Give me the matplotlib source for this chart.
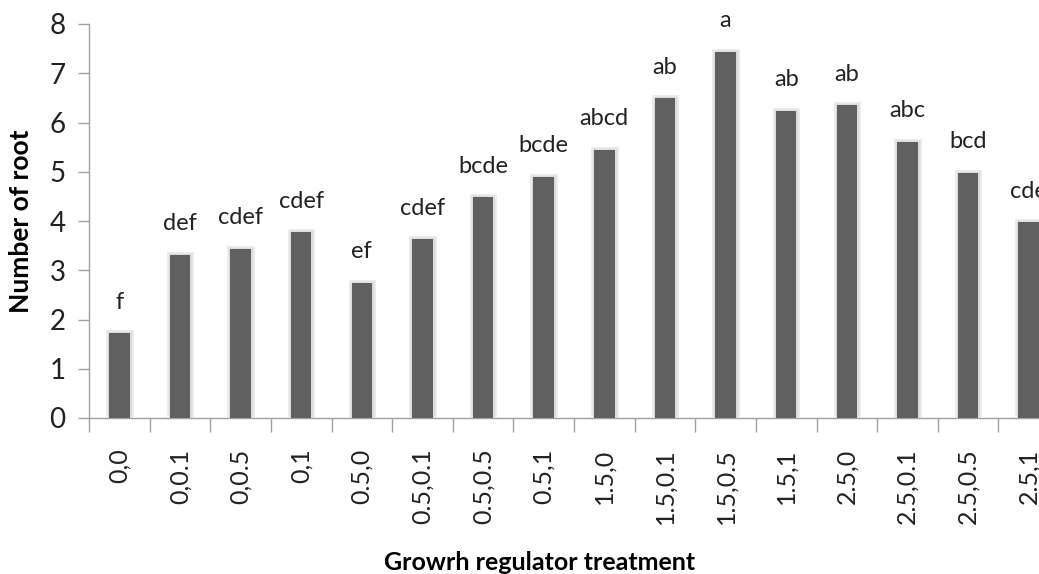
import matplotlib
matplotlib.use("Agg")
import matplotlib.pyplot as plt
import matplotlib.patheffects as pe
import numpy as np

treatments = ["0,0", "0,0.1", "0,0.5", "0,1", "0.5,0", "0.5,0.1", "0.5,0.5", "0.5,1",
              "1.5,0", "1.5,0.1", "1.5,0.5", "1.5,1", "2.5,0", "2.5,0.1", "2.5,0.5", "2.5,1"]
root_count = [1.72, 3.31, 3.43, 3.77, 2.74, 3.63, 4.48, 4.90,
              5.44, 6.49, 7.44, 6.24, 6.35, 5.61, 4.98, 3.97]
letters = ["f", "def", "cdef", "cdef", "ef", "cdef", "bcde", "bcde",
           "abcd", "ab", "a", "ab", "ab", "abc", "bcd", "cde"]
y_ticks = [0, 1, 2, 3, 4, 5, 6, 7, 8]

plt.rcParams["font.family"] = ["Lato", "DejaVu Sans"]

fig = plt.figure(figsize=(10.39, 5.74), dpi=100)
ax = fig.add_axes([89 / 1039, 156 / 574, 970 / 1039, 394 / 574])

x = np.arange(len(treatments))
bars = ax.bar(x, root_count, width=0.34, color="#606060", zorder=3)
for b in bars:
    b.set_path_effects([pe.withStroke(linewidth=5, foreground="#ececec"),
                        pe.withStroke(linewidth=2.5, foreground="#dcdcdc"), pe.Normal()])

# significance letters above each bar
for xi, v, lab in zip(x, root_count, letters):
    ax.text(xi, v + 0.42, lab, ha="center", va="bottom", fontsize=17, color="#222222")

ax.set_xlim(-0.5, len(treatments) - 0.5)
ax.set_ylim(0, 8)
ax.set_yticks(y_ticks)
ax.tick_params(axis="y", direction="out", length=8, width=1, color="#a0a0a0",
               labelsize=20, labelcolor="#222222", pad=9)

ax.set_xticks(x)
ax.set_xticklabels(treatments, rotation=90, fontsize=18, color="#222222")
ax.tick_params(axis="x", which="major", length=0, pad=22)
ax.set_xticks(np.arange(len(treatments) + 1) - 0.5, minor=True)
ax.tick_params(axis="x", which="minor", direction="out", length=10, width=1, color="#a0a0a0")

for side in ("top", "right"):
    ax.spines[side].set_visible(False)
for side in ("left", "bottom"):
    ax.spines[side].set_color("#a0a0a0")
    ax.spines[side].set_linewidth(1)

ax.set_ylabel("Number of root", fontsize=19, fontweight="bold", labelpad=12)
fig.text(540 / 1039, 1 - 563 / 574, "Growrh regulator treatment", ha="center", va="center",
         fontsize=18, fontweight="bold")

fig.savefig("out.png", dpi=100)
